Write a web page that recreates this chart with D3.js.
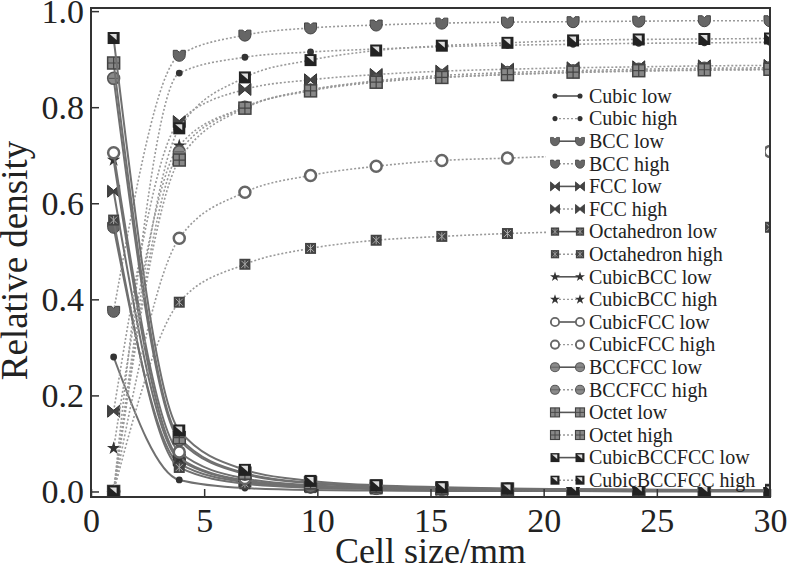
<!DOCTYPE html>
<html>
<head>
<meta charset="utf-8">
<script src="https://cdn.jsdelivr.net/npm/d3@7"></script>
<style>
  body { margin: 0; background: #fff; }
  svg text { font-family: "Liberation Serif", Tinos, "Times New Roman", "DejaVu Serif", serif; fill: #222; }
</style>
</head>
<body>
<svg id="chart" width="789" height="565"></svg>
<script>
// cell size (mm) sampled for every series
const cellSize = [1, 3.9, 6.8, 9.7, 12.6, 15.5, 18.4, 21.3, 24.2, 27.1, 30];

// relative density, "low" series
const cubicLow       = [0.28, 0.024, 0.007, 0.003, 0.002, 0.001, 0.001, 0.001, 0.000, 0.000, 0.000];
const bccLow         = [0.55, 0.058, 0.019, 0.009, 0.006, 0.004, 0.003, 0.002, 0.002, 0.001, 0.001];
const fccLow         = [0.625, 0.066, 0.022, 0.011, 0.007, 0.004, 0.003, 0.002, 0.002, 0.002, 0.001];
const octahedronLow  = [0.565, 0.050, 0.016, 0.008, 0.005, 0.003, 0.002, 0.002, 0.001, 0.001, 0.001];
const cubicBccLow    = [0.69, 0.070, 0.023, 0.011, 0.007, 0.004, 0.003, 0.002, 0.002, 0.002, 0.001];
const cubicFccLow    = [0.705, 0.082, 0.027, 0.013, 0.008, 0.005, 0.004, 0.003, 0.002, 0.002, 0.002];
const bccFccLow      = [0.86, 0.107, 0.036, 0.017, 0.010, 0.007, 0.005, 0.004, 0.003, 0.002, 0.002];
const octetLow       = [0.892, 0.112, 0.038, 0.018, 0.011, 0.007, 0.005, 0.004, 0.003, 0.002, 0.002];
const cubicBccFccLow = [0.944, 0.127, 0.045, 0.022, 0.013, 0.009, 0.006, 0.005, 0.004, 0.003, 0.002];

// relative density, "high" series
const cubicHigh       = [0.0, 0.871, 0.904, 0.915, 0.921, 0.926, 0.929, 0.931, 0.933, 0.934, 0.935];
const bccHigh         = [0.375, 0.908, 0.950, 0.965, 0.971, 0.975, 0.977, 0.978, 0.979, 0.980, 0.980];
const fccHigh         = [0.167, 0.770, 0.837, 0.857, 0.868, 0.875, 0.879, 0.882, 0.884, 0.886, 0.887];
const octahedronHigh  = [0.0, 0.394, 0.473, 0.506, 0.523, 0.531, 0.537, 0.541, 0.545, 0.548, 0.550];
const cubicBccHigh    = [0.09, 0.720, 0.800, 0.836, 0.853, 0.862, 0.868, 0.872, 0.875, 0.877, 0.878];
const cubicFccHigh    = [0.0, 0.527, 0.623, 0.658, 0.677, 0.689, 0.694, 0.699, 0.703, 0.706, 0.708];
const bccFccHigh      = [0.0, 0.707, 0.800, 0.836, 0.855, 0.866, 0.872, 0.876, 0.879, 0.881, 0.882];
const octetHigh       = [0.0, 0.690, 0.798, 0.834, 0.852, 0.862, 0.868, 0.873, 0.876, 0.878, 0.879];
const cubicBccFccHigh = [0.0, 0.756, 0.862, 0.898, 0.918, 0.928, 0.934, 0.939, 0.941, 0.942, 0.943];

const xTicks = [0, 5, 10, 15, 20, 25, 30];
const yTicks = [0, 0.2, 0.4, 0.6, 0.8, 1.0];

const series = [
  { name: "Cubic low", marker: "cubic", values: cubicLow, dotted: false },
  { name: "Cubic high", marker: "cubic", values: cubicHigh, dotted: true },
  { name: "BCC low", marker: "bcc", values: bccLow, dotted: false },
  { name: "BCC high", marker: "bcc", values: bccHigh, dotted: true },
  { name: "FCC low", marker: "fcc", values: fccLow, dotted: false },
  { name: "FCC high", marker: "fcc", values: fccHigh, dotted: true },
  { name: "Octahedron low", marker: "octahedron", values: octahedronLow, dotted: false },
  { name: "Octahedron high", marker: "octahedron", values: octahedronHigh, dotted: true },
  { name: "CubicBCC low", marker: "cubicBcc", values: cubicBccLow, dotted: false },
  { name: "CubicBCC high", marker: "cubicBcc", values: cubicBccHigh, dotted: true },
  { name: "CubicFCC low", marker: "cubicFcc", values: cubicFccLow, dotted: false },
  { name: "CubicFCC high", marker: "cubicFcc", values: cubicFccHigh, dotted: true },
  { name: "BCCFCC low", marker: "bccFcc", values: bccFccLow, dotted: false },
  { name: "BCCFCC high", marker: "bccFcc", values: bccFccHigh, dotted: true },
  { name: "Octet low", marker: "octet", values: octetLow, dotted: false },
  { name: "Octet high", marker: "octet", values: octetHigh, dotted: true },
  { name: "CubicBCCFCC low", marker: "cubicBccFcc", values: cubicBccFccLow, dotted: false },
  { name: "CubicBCCFCC high", marker: "cubicBccFcc", values: cubicBccFccHigh, dotted: true }
];

const serif = '"Liberation Serif", Tinos, "Times New Roman", "DejaVu Serif", serif';
const plot = { left: 91, right: 770, top: 8, bottom: 497 };

const x = d3.scaleLinear().domain([0, 30]).range([plot.left, plot.right]);
const y = d3.scaleLinear().domain([-0.0115, 1.0065]).range([plot.bottom, plot.top]);

const svg = d3.select("#chart");

svg.append("clipPath").attr("id", "plotClip")
  .append("rect")
  .attr("x", plot.left).attr("y", plot.top)
  .attr("width", plot.right - plot.left).attr("height", plot.bottom - plot.top);

// draws one symbol centred on 0,0 inside g
function drawMarker(g, type) {
  switch (type) {
    case "cubic":
      g.append("circle").attr("r", 3.4).attr("fill", "#333");
      break;
    case "bcc":
      g.append("path").attr("d", "M-6,-5 L-2,-5 L0,-3 L2,-5 L6,-5 L6,0 A6,6 0 0 1 -6,0 Z")
        .attr("fill", "#666").attr("stroke", "#444").attr("stroke-width", 1);
      break;
    case "fcc":
      g.append("path").attr("d", "M-6,-6 L0,-1 L6,-6 L6,6 L0,1 L-6,6 Z")
        .attr("fill", "#444").attr("stroke", "#333").attr("stroke-width", 1);
      break;
    case "octahedron":
      g.append("rect").attr("x", -5.5).attr("y", -5.5).attr("width", 11).attr("height", 11)
        .attr("fill", "#444");
      g.append("path").attr("d", "M-3.5,-3.5 L3.5,3.5 M3.5,-3.5 L-3.5,3.5 M0,-4 V4")
        .attr("stroke", "#aaa").attr("stroke-width", 1);
      break;
    case "cubicBcc":
      g.append("path").attr("d", d3.symbol(d3.symbolStar, 55)()).attr("fill", "#333");
      break;
    case "cubicFcc":
      g.append("circle").attr("r", 5.5).attr("fill", "#fff")
        .attr("stroke", "#666").attr("stroke-width", 2.5);
      break;
    case "bccFcc":
      g.append("circle").attr("r", 6).attr("fill", "#8a8a8a")
        .attr("stroke", "#555").attr("stroke-width", 1.5);
      g.append("path").attr("d", "M-5,0 H5").attr("stroke", "#555").attr("stroke-width", 1);
      break;
    case "octet":
      g.append("rect").attr("x", -6).attr("y", -6).attr("width", 12).attr("height", 12)
        .attr("fill", "#888").attr("stroke", "#444").attr("stroke-width", 1.5);
      g.append("path").attr("d", "M-6,0 H6 M0,-6 V6").attr("stroke", "#444").attr("stroke-width", 1.2);
      break;
    case "cubicBccFcc":
      g.append("rect").attr("x", -6).attr("y", -6).attr("width", 12).attr("height", 12)
        .attr("fill", "#222");
      g.append("path").attr("d", "M-4,-4 L3,-4 L3,2 Z").attr("fill", "#ddd");
      break;
  }
}

const line = d3.line()
  .x((d, i) => x(cellSize[i]))
  .y(d => y(d))
  .curve(d3.curveMonotoneX);

// series: line then markers, in legend order
const plotArea = svg.append("g").attr("clip-path", "url(#plotClip)");

series.forEach(s => {
  const g = plotArea.append("g");
  g.append("path")
    .attr("d", line(s.values))
    .attr("fill", "none")
    .attr("stroke", s.dotted ? "#9a9a9a" : "#707070")
    .attr("stroke-width", s.dotted ? 1.6 : 2)
    .attr("stroke-dasharray", s.dotted ? "2,2" : null);

  g.selectAll("g.pt")
    .data(s.values)
    .join("g")
    .attr("class", "pt")
    .attr("transform", (d, i) => `translate(${x(cellSize[i])},${y(d)})`)
    .each(function () { drawMarker(d3.select(this), s.marker); });
});

// legend
const legend = svg.append("g");
legend.append("rect")
  .attr("x", 546).attr("y", 84).attr("width", 219).attr("height", 403)
  .attr("fill", "#fff");

const legendTop = 96;
const legendStep = 22.6;

series.forEach((s, i) => {
  const ly = legendTop + i * legendStep;
  const item = legend.append("g").attr("transform", `translate(0,${ly})`);
  item.append("line")
    .attr("x1", 555).attr("x2", 580)
    .attr("stroke", s.dotted ? "#9a9a9a" : "#555")
    .attr("stroke-width", s.dotted ? 1.4 : 1.6)
    .attr("stroke-dasharray", s.dotted ? "2,2" : null);
  [555, 580].forEach(mx => {
    const m = item.append("g").attr("transform", `translate(${mx},0) scale(0.75)`);
    drawMarker(m, s.marker);
  });
  item.append("text")
    .attr("x", 589)
    .attr("y", 0)
    .attr("dy", "0.34em")
    .style("font-family", serif)
    .attr("font-size", 20)
    .text(s.name);
});

// axes
const xAxis = d3.axisBottom(x)
  .tickValues(xTicks)
  .tickSize(-8)
  .tickSizeOuter(0)
  .tickPadding(11)
  .tickFormat(d3.format("d"));

const yAxis = d3.axisLeft(y)
  .tickValues(yTicks)
  .tickSize(-8)
  .tickSizeOuter(0)
  .tickPadding(7)
  .tickFormat(d3.format(".1f"));

const gx = svg.append("g").attr("transform", `translate(0,${plot.bottom})`).call(xAxis);
const gy = svg.append("g").attr("transform", `translate(${plot.left},0)`).call(yAxis);

[gx, gy].forEach(g => {
  g.attr("font-family", null).attr("font-size", null);
  g.select(".domain").remove();
  g.selectAll(".tick line").attr("stroke", "#333").attr("stroke-width", 1.5);
  g.selectAll(".tick text")
    .style("font-family", serif)
    .style("font-size", "34px")
    .attr("fill", "#222");
});

// frame
svg.append("rect")
  .attr("x", plot.left).attr("y", plot.top)
  .attr("width", plot.right - plot.left).attr("height", plot.bottom - plot.top)
  .attr("fill", "none").attr("stroke", "#333").attr("stroke-width", 2);

// axis titles
svg.append("text")
  .attr("x", (plot.left + plot.right) / 2)
  .attr("y", 563)
  .attr("text-anchor", "middle")
  .style("font-family", serif)
  .style("font-size", "36px")
  .text("Cell size/mm");

svg.append("text")
  .attr("transform", `translate(27,${(plot.top + plot.bottom) / 2 + 8}) rotate(-90)`)
  .attr("text-anchor", "middle")
  .style("font-family", serif)
  .style("font-size", "37px")
  .text("Relative density");
</script>
</body>
</html>
